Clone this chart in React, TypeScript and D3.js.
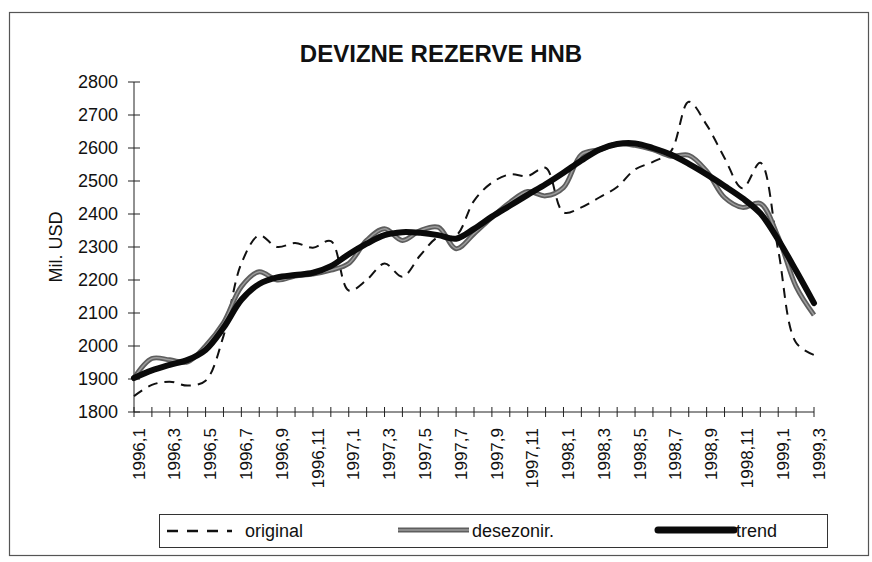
import React from "react";
import * as d3 from "d3";

const title = "DEVIZNE REZERVE HNB";
const yAxisTitle = "Mil. USD";
const categories = [
  "1996,1","1996,2","1996,3","1996,4","1996,5","1996,6","1996,7","1996,8","1996,9","1996,10","1996,11","1996,12",
  "1997,1","1997,2","1997,3","1997,4","1997,5","1997,6","1997,7","1997,8","1997,9","1997,10","1997,11","1997,12",
  "1998,1","1998,2","1998,3","1998,4","1998,5","1998,6","1998,7","1998,8","1998,9","1998,10","1998,11","1998,12",
  "1999,1","1999,2","1999,3",
];
const original = [1848,1882,1892,1880,1895,2030,2250,2335,2300,2312,2298,2318,2168,2200,2250,2210,2275,2330,2335,2440,2495,2520,2515,2540,2405,2420,2450,2482,2535,2558,2590,2740,2670,2570,2478,2555,2290,2010,1973];
const desezonir = [1903,1962,1958,1952,2000,2070,2180,2225,2200,2212,2218,2230,2250,2320,2355,2320,2350,2360,2295,2340,2390,2435,2468,2455,2480,2580,2595,2612,2608,2595,2575,2578,2530,2450,2420,2432,2330,2180,2094];
const trend = [1903,1926,1943,1958,1988,2055,2140,2188,2208,2215,2222,2242,2278,2310,2336,2345,2343,2336,2325,2355,2392,2425,2458,2490,2525,2562,2595,2612,2614,2600,2580,2552,2520,2485,2448,2402,2322,2228,2130];
const yTicks = [1800,1900,2000,2100,2200,2300,2400,2500,2600,2700,2800];
const legendLabels = ["original", "desezonir.", "trend"];

const FONT = "'Liberation Sans', Arial, Helvetica, sans-serif";

export default function App() {
  const x = d3.scaleLinear().domain([0, categories.length - 1]).range([134, 814]);
  const y = d3.scaleLinear().domain([1800, 2800]).range([412, 82]);
  const line = d3
    .line<number>()
    .x((_, i) => x(i))
    .y((d) => y(d))
    .curve(d3.curveCatmullRom.alpha(0.5));

  return (
    <svg
      width={872}
      height={562}
      style={{ position: "absolute", left: 0, top: 0, background: "#fff" }}
      fontFamily={FONT}
    >
      <rect x={0} y={0} width={872} height={562} fill="#fff" />
      <rect x={9.5} y={12.5} width={859} height={543} fill="none" stroke="#555" strokeWidth={1.2} />
      <text x={441} y={62} textAnchor="middle" fontSize={24} fontWeight="bold" fill="#111">
        {title}
      </text>

      {/* Y axis */}
      <line x1={134} x2={134} y1={y(2800)} y2={y(1800)} stroke="#222" strokeWidth={1} />
      {yTicks.map((t) => (
        <g key={t}>
          <line x1={128} x2={140} y1={y(t)} y2={y(t)} stroke="#222" strokeWidth={1} />
          <text x={118} y={y(t)} dy="0.36em" textAnchor="end" fontSize={18} fill="#111">
            {t}
          </text>
        </g>
      ))}
      <text
        transform={`translate(62,${(y(2800) + y(1800)) / 2}) rotate(-90)`}
        textAnchor="middle"
        fontSize={18}
        fill="#111"
      >
        {yAxisTitle}
      </text>

      {/* X axis */}
      <line x1={x(0)} x2={x(categories.length - 1)} y1={412} y2={412} stroke="#222" strokeWidth={1} />
      {categories.map((c, i) => (
        <g key={c}>
          <line x1={x(i)} x2={x(i)} y1={407} y2={417} stroke="#222" strokeWidth={1} />
          {i % 2 === 0 && (
            <text
              transform={`translate(${x(i) + 4.5},428) rotate(-90)`}
              dy="0.36em"
              textAnchor="end"
              fontSize={17}
              fill="#111"
            >
              {c}
            </text>
          )}
        </g>
      ))}

      {/* Series */}
      <path d={line(original) || ""} fill="none" stroke="#111" strokeWidth={2} strokeDasharray="10,7" />
      <path d={line(desezonir) || ""} fill="none" stroke="#5e5e5e" strokeWidth={5} />
      <path d={line(desezonir) || ""} fill="none" stroke="#9c9c9c" strokeWidth={1.5} />
      <path d={line(trend) || ""} fill="none" stroke="#0a0a0a" strokeWidth={6} strokeLinecap="round" />

      {/* Legend */}
      <rect x={159.5} y={514.5} width={668} height={33} fill="#fff" stroke="#333" strokeWidth={1} />
      <line x1={167} x2={232} y1={531} y2={531} stroke="#111" strokeWidth={2.5} strokeDasharray="11,9" />
      <text x={245} y={531} dy="0.36em" fontSize={18} fill="#111">{legendLabels[0]}</text>
      <line x1={398} x2={469} y1={530} y2={530} stroke="#5e5e5e" strokeWidth={5} />
      <line x1={398} x2={469} y1={530} y2={530} stroke="#9c9c9c" strokeWidth={1.5} />
      <text x={472} y={531} dy="0.36em" fontSize={18} fill="#111">{legendLabels[1]}</text>
      <line x1={658} x2={734} y1={530} y2={530} stroke="#0a0a0a" strokeWidth={7} strokeLinecap="round" />
      <text x={736} y={531} dy="0.36em" fontSize={18} fill="#111">{legendLabels[2]}</text>
    </svg>
  );
}
